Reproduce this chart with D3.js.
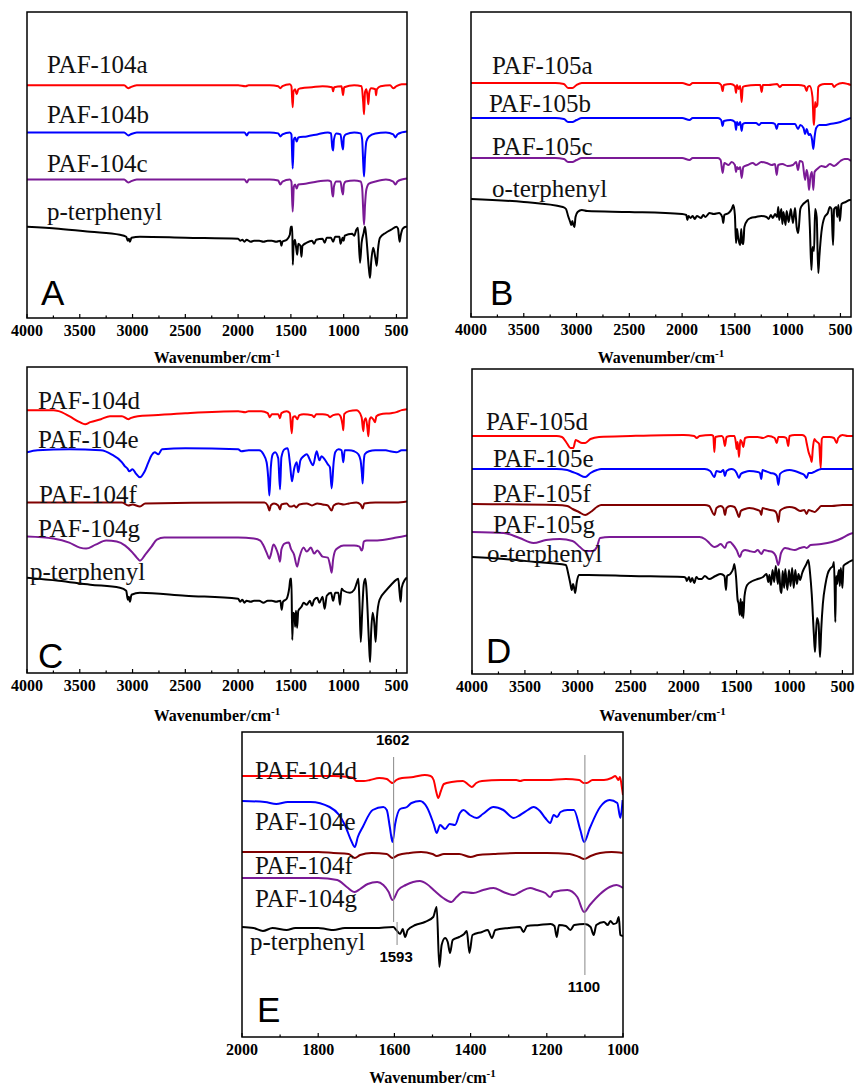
<!DOCTYPE html>
<html>
<head>
<meta charset="utf-8">
<script src="https://cdn.jsdelivr.net/npm/d3@7"></script>
<style>
  body { margin: 0; background: #fff; }
</style>
</head>
<body>
<svg id="fig" width="857" height="1088"></svg>
<script>
// ---- tick values ----
const ticksWide = [4000, 3500, 3000, 2500, 2000, 1500, 1000, 500];
const minorWide = [3750, 3250, 2750, 2250, 1750, 1250, 750];
const ticksE = [2000, 1800, 1600, 1400, 1200, 1000];
const minorE = [1900, 1700, 1500, 1300, 1100];

// ---- series names ----
const namesA = ["PAF-104a", "PAF-104b", "PAF-104c", "p-terphenyl"];
const namesB = ["PAF-105a", "PAF-105b", "PAF-105c", "o-terphenyl"];
const namesC = ["PAF-104d", "PAF-104e", "PAF-104f", "PAF-104g", "p-terphenyl"];
const namesD = ["PAF-105d", "PAF-105e", "PAF-105f", "PAF-105g", "o-terphenyl"];
const namesE = ["PAF-104d", "PAF-104e", "PAF-104f", "PAF-104g", "p-terphenyl"];

// ---- spectra: [wavenumber, offset intensity (a.u.)] ----
// panel A
const a104a = [[4000,232],[3200,232],[3080,232],[3040,229],[3020,230],[2960,232],[2000,232],[1930,231],[1900,232],[1700,232],[1620,231],[1600,229],[1580,231],[1510,233],[1495,231],[1483,210],[1475,226],[1460,228],[1445,223],[1430,228],[1400,229],[1300,230],[1200,231],[1110,230],[1100,226],[1090,230],[1020,231],[1006,222],[995,230],[900,232],[830,231],[815,215],[807,203],[798,225],[785,228],[775,222],[766,213],[757,225],[740,229],[700,228],[693,222],[685,228],[650,231],[560,232],[530,229],[500,231],[450,233],[400,233]];
const a104b = [[4000,185],[3080,185],[3040,182],[3020,183],[2960,185],[1940,185],[1916,182],[1900,185],[1700,185],[1620,184],[1600,181],[1580,183],[1510,185],[1495,183],[1483,149],[1472,178],[1460,180],[1445,176],[1430,180],[1350,181],[1250,183],[1150,185],[1120,184],[1108,170],[1100,167],[1092,178],[1070,184],[1030,183],[1015,172],[1006,168],[998,180],[980,183],[900,185],[840,184],[825,178],[815,155],[807,141],[798,160],[785,176],[760,181],[700,184],[600,185],[530,183],[510,180],[490,183],[450,185],[400,186]];
const a104c = [[4000,138],[3080,138],[3040,135],[3020,136],[2960,138],[1940,138],[1916,135],[1900,138],[1700,138],[1620,137],[1600,133],[1580,136],[1510,138],[1495,136],[1483,106],[1472,131],[1460,133],[1445,129],[1430,133],[1350,134],[1250,136],[1150,137],[1120,136],[1108,124],[1100,121],[1092,131],[1070,136],[1030,136],[1015,126],[1006,123],[998,133],[980,136],[900,137],[840,136],[825,130],[815,108],[807,93],[798,112],[785,128],[760,134],[700,136],[600,138],[530,136],[510,133],[490,136],[450,138],[400,139]];
const aPter = [[4000,91],[3700,89],[3400,86],[3120,83],[3060,81],[3045,77],[3035,79],[3025,76],[3010,80],[2930,81],[2500,80],[2000,79],[1980,77],[1960,78],[1940,76],[1920,78],[1880,76],[1850,77],[1800,77],[1760,76],[1720,77],[1680,77],[1640,76],[1600,77],[1590,72],[1580,76],[1540,78],[1510,83],[1500,91],[1487,91],[1482,53],[1475,72],[1462,78],[1450,70],[1440,63],[1430,74],[1410,72],[1400,61],[1390,72],[1350,75],[1300,77],[1280,74],[1260,78],[1200,79],[1180,75],[1160,80],[1120,80],[1100,76],[1080,81],[1040,81],[1030,74],[1010,80],[1000,77],[990,82],[920,84],[900,82],[880,88],[865,90],[845,55],[830,75],[810,85],[798,91],[785,80],[760,48],[750,40],[740,55],[720,70],[700,60],[687,52],[675,68],[656,80],[600,85],[550,88],[500,91],[485,89],[470,76],[460,82],[440,89],[410,91],[400,91]];

// panel B
const b105a = [[4000,234],[3200,234],[3120,233],[3080,229],[3040,229],[3000,232],[2950,234],[2000,234],[1930,232],[1900,234],[1660,234],[1630,232],[1616,226],[1605,232],[1540,233],[1500,231],[1489,224],[1480,232],[1465,228],[1450,231],[1436,215],[1425,230],[1400,231],[1300,232],[1260,232],[1246,225],[1235,232],[1180,232],[1100,233],[1075,230],[1050,232],[1000,232],[900,232],[840,231],[820,226],[810,230],[790,231],[765,220],[755,196],[750,192],[740,215],[730,210],[719,212],[710,230],[690,232],[650,233],[580,233],[560,230],[540,232],[480,234],[430,233],[400,232]];
const b105b = [[4000,199],[3200,199],[3120,198],[3080,195],[3040,195],[3000,197],[2950,199],[2000,199],[1930,197],[1900,199],[1660,199],[1630,197],[1616,191],[1605,196],[1540,197],[1500,195],[1489,187],[1480,195],[1465,192],[1450,195],[1436,186],[1425,193],[1400,194],[1300,194],[1270,192],[1250,194],[1150,194],[1120,193],[1104,188],[1090,193],[1000,193],[930,193],[902,188],[880,192],[850,189],[835,183],[820,188],[800,182],[788,183],[770,178],[757,168],[745,180],[730,189],[700,192],[650,192],[600,193],[500,195],[450,197],[400,199]];
const b105c = [[4000,159],[3200,159],[3120,158],[3080,155],[3040,155],[3000,157],[2950,159],[2000,159],[1930,157],[1900,159],[1660,159],[1635,157],[1616,144],[1600,154],[1560,152],[1530,155],[1500,152],[1489,145],[1480,150],[1465,148],[1450,150],[1436,139],[1420,150],[1380,152],[1330,154],[1300,152],[1250,155],[1200,154],[1150,152],[1120,153],[1104,142],[1090,152],[1050,153],[1000,151],[950,152],[920,155],[902,147],[885,156],[860,155],[835,137],[820,147],[810,142],[798,127],[785,140],[770,145],[757,127],[745,145],[720,148],[680,151],[640,150],[600,153],[560,151],[500,156],[460,158],[430,158],[400,156]];
const bOter = [[4000,118],[3500,115],[3130,110],[3100,108],[3080,101],[3060,95],[3050,92],[3040,96],[3030,92],[3020,90],[3010,100],[2990,105],[2950,107],[2900,106],[2500,105],[2000,103],[1960,102],[1950,97],[1940,101],[1920,99],[1900,101],[1880,98],[1860,101],[1820,99],[1800,102],[1780,100],[1740,104],[1700,103],[1650,104],[1620,100],[1610,94],[1600,102],[1560,104],[1530,108],[1515,112],[1500,102],[1489,74],[1480,88],[1470,80],[1450,72],[1440,88],[1430,74],[1420,73],[1410,90],[1380,97],[1350,99],[1300,100],[1250,101],[1200,100],[1180,98],[1160,102],[1140,99],[1120,103],[1100,100],[1089,110],[1080,97],[1060,108],[1050,93],[1040,105],[1020,92],[1010,106],[990,95],[970,108],[950,94],[930,109],[915,90],[900,84],[880,108],[860,112],[830,115],[805,117],[790,90],[775,47],[765,70],[750,66],[740,108],[725,100],[710,44],[700,60],[680,85],[650,100],[620,104],[600,110],[585,108],[570,72],[560,108],[540,110],[530,100],[520,112],[505,96],[490,113],[450,115],[410,117],[400,117]];

// panel C
const c104d = [[4000,262],[3750,262],[3700,261],[3600,256],[3500,250],[3450,248],[3400,250],[3300,253],[3214,256],[3100,256],[3040,253],[3020,254],[2950,256],[2800,257],[2500,259],[2000,261],[1930,260],[1900,261],[1780,261],[1720,259],[1700,255],[1680,258],[1620,258],[1603,254],[1590,259],[1540,261],[1510,259],[1492,239],[1480,255],[1460,256],[1440,253],[1420,257],[1380,258],[1300,257],[1280,255],[1260,258],[1200,258],[1150,257],[1130,255],[1100,257],[1050,258],[1030,256],[1010,247],[1003,242],[995,258],[950,261],[880,262],[860,261],[830,255],[814,241],[805,251],[790,254],[775,244],[766,236],[755,252],[740,255],[715,252],[703,250],[690,256],[650,258],[550,259],[500,260],[450,262],[400,263]];
const c104e = [[4000,220],[3900,222],[3600,223],[3300,222],[3200,218],[3100,210],[3072,206],[3050,204],[3030,201],[3000,203],[2970,199],[2930,195],[2890,200],[2850,210],[2820,217],[2790,220],[2756,218],[2720,223],[2500,224],[2000,223],[1970,221],[1900,222],[1800,222],[1760,218],[1730,210],[1715,195],[1704,177],[1690,205],[1672,218],[1650,220],[1620,214],[1603,183],[1590,215],[1560,223],[1530,224],[1508,208],[1490,191],[1470,203],[1445,210],[1430,200],[1410,212],[1380,216],[1350,218],[1310,210],[1290,207],[1256,221],[1230,212],[1210,216],[1180,213],[1150,208],[1130,205],[1114,184],[1095,210],[1080,220],[1050,223],[1020,222],[1003,210],[990,222],[950,222],[900,221],[861,218],[840,212],[828,200],[820,189],[810,210],[800,218],[760,221],[700,222],[600,222],[560,221],[500,220],[450,222],[400,222]];
const c104f = [[4000,170],[3500,170],[3100,170],[3040,167],[3000,168],[2930,166],[2880,169],[2000,170],[1750,170],[1720,167],[1704,162],[1690,167],[1660,169],[1620,167],[1603,163],[1590,168],[1540,169],[1510,166],[1490,166],[1470,167],[1450,165],[1420,168],[1350,169],[1300,167],[1250,169],[1200,168],[1150,167],[1114,162],[1095,167],[1050,169],[1000,168],[950,169],[880,170],[840,168],[820,164],[805,169],[700,170],[600,170],[500,170],[400,171]];
const c104g = [[4000,136],[3750,134],[3600,130],[3500,125],[3440,124],[3350,128],[3250,132],[3150,131],[3070,127],[3000,120],[2960,115],[2930,112],[2880,118],[2820,126],[2770,133],[2700,135],[2000,135],[1850,134],[1790,132],[1760,127],[1730,120],[1704,114],[1690,118],[1665,128],[1640,124],[1620,118],[1603,111],[1590,123],[1560,129],[1520,130],[1500,124],[1470,118],[1441,106],[1420,115],[1380,125],[1350,121],[1310,125],[1280,119],[1250,122],[1200,116],[1150,115],[1130,108],[1114,100],[1100,113],[1080,122],[1050,125],[1000,127],[900,127],[850,126],[830,122],[820,124],[810,131],[780,132],[700,132],[600,133],[500,135],[400,137]];
const cPter = [[4000,95],[3700,92],[3400,88],[3120,85],[3060,82],[3045,73],[3035,76],[3025,71],[3010,78],[2930,80],[2500,77],[2000,74],[1980,71],[1960,73],[1940,70],[1920,72],[1880,71],[1850,72],[1800,72],[1760,70],[1720,72],[1680,72],[1640,71],[1600,72],[1587,63],[1575,71],[1540,74],[1515,85],[1505,94],[1495,94],[1487,33],[1478,60],[1465,58],[1460,46],[1452,62],[1441,45],[1430,62],[1400,66],[1380,70],[1350,68],[1320,72],[1300,67],[1280,73],[1250,75],[1230,70],[1200,76],[1180,64],[1160,77],[1120,80],[1100,72],[1080,80],[1050,80],[1035,68],[1020,84],[1000,82],[940,80],[900,83],[875,90],[861,94],[850,70],[838,31],[825,60],[810,88],[795,94],[785,85],[760,30],[750,11],[740,40],[725,60],[710,50],[697,31],[685,55],[660,73],[600,82],[550,88],[500,93],[483,94],[470,80],[460,71],[450,85],[420,93],[400,95]];

// panel D
const d105d = [[4000,238],[3200,238],[3150,237],[3105,231],[3070,226],[3043,226],[3020,234],[3000,233],[2960,231],[2930,231],[2880,235],[2800,237],[2500,238],[2000,239],[1900,238],[1877,236],[1850,238],[1740,239],[1720,238],[1710,222],[1700,237],[1640,238],[1625,236],[1610,228],[1595,237],[1560,238],[1520,238],[1505,230],[1499,225],[1490,232],[1477,217],[1465,234],[1450,232],[1437,227],[1420,236],[1380,237],[1300,237],[1250,236],[1200,238],[1140,236],[1121,231],[1105,237],[1060,237],[1030,236],[1011,228],[1000,238],[950,239],[880,239],[850,237],[838,231],[820,222],[800,216],[790,212],[780,225],[765,235],[750,233],[720,230],[705,206],[695,235],[680,237],[620,237],[580,236],[554,231],[540,236],[500,239],[450,238],[400,238]];
const d105e = [[4000,205],[3200,205],[3100,204],[3050,202],[3000,200],[2930,197],[2880,201],[2820,204],[2780,205],[2000,205],[1800,205],[1750,203],[1710,197],[1690,203],[1650,202],[1625,204],[1610,198],[1595,203],[1550,205],[1520,204],[1500,201],[1477,196],[1460,200],[1420,202],[1380,203],[1300,202],[1280,201],[1266,195],[1255,204],[1230,203],[1180,201],[1140,200],[1120,198],[1105,189],[1090,200],[1050,203],[1000,204],[950,203],[900,201],[860,199],[838,196],[820,201],[790,201],[770,202],[730,204],[700,205],[600,205],[500,205],[400,205]];
const d105f = [[4000,170],[3200,169],[3100,168],[3050,165],[2990,162],[2930,159],[2880,162],[2820,167],[2780,169],[2000,169],[1800,169],[1760,168],[1710,159],[1690,166],[1650,168],[1625,166],[1610,159],[1595,166],[1560,168],[1520,167],[1500,163],[1477,157],[1460,163],[1420,165],[1380,166],[1300,164],[1280,163],[1266,159],[1255,166],[1220,165],[1180,164],[1140,163],[1120,160],[1105,152],[1090,163],[1050,166],[1000,167],[950,166],[900,163],[860,164],[838,160],[820,164],[790,163],[760,162],[730,165],[700,168],[600,168],[500,169],[400,169]];
const d105g = [[4000,142],[3700,141],[3550,136],[3420,131],[3300,134],[3170,135],[3050,133],[2980,127],[2930,123],[2860,123],[2820,127],[2790,136],[2700,137],[2000,137],[1850,137],[1800,135],[1767,132],[1740,129],[1710,127],[1680,128],[1650,130],[1610,126],[1590,131],[1560,132],[1540,130],[1500,124],[1468,117],[1450,122],[1420,124],[1380,123],[1330,122],[1300,124],[1266,120],[1240,124],[1200,123],[1160,122],[1130,118],[1105,109],[1080,121],[1040,126],[1000,125],[950,124],[900,126],[860,127],[838,126],[800,129],[700,130],[600,132],[500,136],[450,139],[400,141]];
const dOter = [[4000,117],[3700,115],[3400,112],[3113,109],[3090,100],[3070,90],[3058,84],[3045,90],[3035,86],[3025,81],[3010,92],[2990,99],[2900,99],[2500,98],[2000,97],[1980,96],[1970,93],[1950,97],[1935,92],[1920,96],[1900,91],[1880,97],[1860,95],[1830,95],[1800,98],[1760,95],[1700,98],[1650,100],[1615,98],[1600,84],[1590,98],[1560,100],[1530,106],[1521,110],[1505,97],[1490,74],[1480,70],[1470,59],[1462,75],[1452,58],[1445,72],[1437,56],[1425,78],[1400,89],[1350,93],[1300,95],[1250,97],[1217,100],[1200,92],[1190,99],[1175,89],[1160,104],[1145,92],[1130,108],[1110,90],[1100,105],[1085,84],[1075,81],[1065,103],[1050,86],[1040,105],[1020,84],[1005,104],[990,88],[975,106],[960,86],[945,104],[930,90],[915,100],[900,94],[880,101],[869,104],[840,110],[822,114],[805,100],[790,80],[770,40],[759,22],[750,40],[740,56],[725,50],[712,17],[700,45],[685,70],[660,90],[640,100],[610,106],[590,108],[580,112],[572,80],[567,52],[560,98],[550,90],[540,100],[530,104],[525,88],[515,106],[500,86],[490,108],[470,110],[440,112],[400,114]];

// panel E (zoom 2000-1000)
const e104d = [[2000,261],[1760,261],[1720,260],[1708,259],[1700,256],[1680,256],[1664,257],[1640,259],[1620,258],[1610,255],[1605,254],[1595,257],[1580,259],[1550,260],[1520,262],[1505,261],[1497,257],[1490,245],[1485,239],[1478,246],[1470,253],[1450,255],[1420,256],[1405,252],[1397,250],[1385,254],[1370,256],[1320,257],[1280,257],[1270,256],[1260,257],[1200,257],[1150,258],[1115,257],[1103,254],[1095,254],[1080,257],[1050,257],[1030,259],[1020,261],[1012,257],[1008,260],[1003,250],[1000,242]];
const e104e = [[2000,236],[1940,235],[1910,233],[1880,235],[1820,235],[1770,230],[1745,222],[1730,212],[1713,196],[1704,190],[1696,200],[1683,210],[1657,227],[1629,230],[1620,227],[1612,210],[1605,195],[1598,213],[1585,228],[1567,230],[1555,234],[1533,236],[1515,230],[1497,213],[1489,204],[1480,212],[1467,208],[1455,213],[1441,212],[1428,224],[1419,227],[1402,222],[1384,219],[1368,223],[1340,230],[1314,227],[1287,219],[1270,222],[1250,227],[1235,230],[1218,226],[1204,219],[1191,214],[1182,222],[1173,220],[1164,225],[1146,227],[1129,227],[1112,207],[1102,195],[1087,209],[1060,230],[1035,237],[1015,234],[1007,219],[1001,237]];
const e104f = [[2000,185],[1800,185],[1760,184],[1720,183],[1704,179],[1690,182],[1660,184],[1620,183],[1605,179],[1590,182],[1560,184],[1530,185],[1500,183],[1489,181],[1470,183],[1430,183],[1400,180],[1380,182],[1340,183],[1280,184],[1200,184],[1140,183],[1115,180],[1102,178],[1085,181],[1060,184],[1030,185],[1000,184]];
const e104g = [[2000,159],[1800,159],[1750,157],[1725,150],[1704,145],[1690,148],[1670,153],[1645,155],[1629,152],[1615,145],[1605,137],[1590,147],[1570,152],[1533,156],[1515,153],[1497,147],[1472,139],[1450,135],[1437,140],[1419,145],[1393,144],[1367,147],[1340,149],[1314,145],[1287,142],[1270,145],[1244,149],[1226,147],[1204,144],[1191,140],[1182,145],[1146,147],[1120,140],[1102,125],[1087,132],[1060,143],[1035,150],[1017,152],[1000,149]];
const ePter = [[2000,110],[1970,109],[1945,106],[1920,109],[1883,107],[1860,109],[1800,109],[1780,108],[1760,107],[1730,109],[1700,109],[1650,109],[1603,110],[1595,107],[1585,103],[1578,108],[1572,100],[1565,107],[1545,112],[1520,115],[1498,120],[1489,130],[1482,70],[1476,92],[1467,99],[1460,95],[1454,84],[1447,97],[1430,100],[1417,103],[1410,106],[1403,84],[1395,102],[1370,105],[1355,107],[1344,99],[1335,107],[1300,109],[1270,110],[1261,105],[1252,111],[1220,112],[1190,113],[1180,111],[1174,100],[1168,112],[1150,111],[1138,107],[1128,112],[1100,113],[1085,110],[1077,102],[1070,112],[1050,115],[1040,112],[1033,116],[1025,113],[1017,114],[1011,120],[1007,102],[1000,101]];

// marker lines in E: [wavenumber, top level, bottom level]
const markE = [[1602, 280, 115], [1593, 115, 92], [1100, 282, 62]];
const markLabelsE = ["1602", "1593", "1100"];

// ---- layout / styling ----
const RED = "#ff0000", BLUE = "#0000ff", PURPLE = "#7b1a96", WINE = "#800000", BLACK = "#000000";
const serif = "'Liberation Serif', 'Times New Roman', serif";
const sans = "'Liberation Sans', Arial, sans-serif";
const yMax = 305;

const panels = [
  { letter: "A", box: [27, 12, 407, 318], xDom: [4000, 400], ticks: ticksWide, minor: minorWide, titleY: 363,
    series: [a104a, a104b, a104c, aPter], names: namesA, colors: [RED, BLUE, PURPLE, BLACK],
    labelPos: [[47, 73], [47, 123], [47, 172], [47, 220]], letterPos: [41, 305] },
  { letter: "B", box: [471, 12, 851, 317], xDom: [4000, 400], ticks: ticksWide, minor: minorWide, titleY: 363,
    series: [b105a, b105b, b105c, bOter], names: namesB, colors: [RED, BLUE, PURPLE, BLACK],
    labelPos: [[492, 74], [489, 112], [492, 155], [492, 197]], letterPos: [490, 305] },
  { letter: "C", box: [27, 367, 407, 673], xDom: [4000, 400], ticks: ticksWide, minor: minorWide, titleY: 721,
    series: [c104d, c104e, c104f, c104g, cPter], names: namesC, colors: [RED, BLUE, WINE, PURPLE, BLACK],
    labelPos: [[38, 409], [38, 448], [39, 503], [38, 537], [30, 580]], letterPos: [38, 668] },
  { letter: "D", box: [472, 369, 853, 674], xDom: [4000, 400], ticks: ticksWide, minor: minorWide, titleY: 721,
    series: [d105d, d105e, d105f, d105g, dOter], names: namesD, colors: [RED, BLUE, WINE, PURPLE, BLACK],
    labelPos: [[486, 430], [493, 467], [493, 502], [493, 533], [487, 562]], letterPos: [486, 663] },
  { letter: "E", box: [242, 732, 623, 1037], xDom: [2000, 1000], ticks: ticksE, minor: minorE, titleY: 1083,
    series: [e104d, e104e, e104f, e104g, ePter], names: namesE, colors: [RED, BLUE, WINE, PURPLE, BLACK],
    labelPos: [[255, 779], [255, 830], [255, 874], [255, 907], [250, 950]], letterPos: [257, 1022] }
];

const svg = d3.select("#fig");
svg.append("rect").attr("width", 857).attr("height", 1088).attr("fill", "#fff");

panels.forEach((p, pi) => {
  const [x0, y0, x1, y1] = p.box;
  const x = d3.scaleLinear().domain(p.xDom).range([x0, x1]);
  const y = d3.scaleLinear().domain([0, yMax]).range([y1, y0]);
  const g = svg.append("g");

  const clipId = "clip" + pi;
  svg.append("clipPath").attr("id", clipId)
    .append("rect").attr("x", x0).attr("y", y0).attr("width", x1 - x0).attr("height", y1 - y0);

  // spectra
  const line = d3.line().x(d => x(d[0])).y(d => y(d[1])).curve(d3.curveMonotoneX);
  g.append("g").attr("clip-path", `url(#${clipId})`)
    .selectAll("path").data(p.series).join("path")
    .attr("d", line)
    .attr("fill", "none")
    .attr("stroke", (d, i) => p.colors[i])
    .attr("stroke-width", 2)
    .attr("stroke-linejoin", "round");

  // marker lines (panel E only)
  if (p.letter === "E") {
    g.selectAll(".mark").data(markE).join("line")
      .attr("x1", d => x(d[0])).attr("x2", d => x(d[0]))
      .attr("y1", d => y(d[1])).attr("y2", d => y(d[2]))
      .attr("stroke", "#888").attr("stroke-width", 1);
    const labY = [y(292), y(75), y(45)];
    g.selectAll(".marklab").data(markE).join("text")
      .attr("x", d => x(d[0]) - 1)
      .attr("y", (d, i) => labY[i])
      .attr("text-anchor", "middle")
      .attr("font-family", sans).attr("font-weight", "bold").attr("font-size", 15)
      .text((d, i) => markLabelsE[i]);
  }

  // frame
  g.append("rect").attr("x", x0).attr("y", y0).attr("width", x1 - x0).attr("height", y1 - y0)
    .attr("fill", "none").attr("stroke", "#000").attr("stroke-width", 1.5);

  // ticks (inward)
  g.selectAll(".maj").data(p.ticks).join("line")
    .attr("x1", d => x(d)).attr("x2", d => x(d)).attr("y1", y1).attr("y2", y1 - 4)
    .attr("stroke", "#000").attr("stroke-width", 1.2);
  g.selectAll(".min").data(p.minor).join("line")
    .attr("x1", d => x(d)).attr("x2", d => x(d)).attr("y1", y1).attr("y2", y1 - 2.5)
    .attr("stroke", "#000").attr("stroke-width", 1.2);
  g.selectAll(".tl").data(p.ticks).join("text")
    .attr("x", d => x(d)).attr("y", y1 + 18)
    .attr("text-anchor", "middle")
    .attr("font-family", serif).attr("font-weight", "bold").attr("font-size", 16)
    .text(d => d);

  // axis title
  const t = g.append("text").attr("x", (x0 + x1) / 2).attr("y", p.titleY)
    .attr("text-anchor", "middle")
    .attr("font-family", serif).attr("font-weight", "bold").attr("font-size", 16);
  t.append("tspan").text("Wavenumber/cm");
  t.append("tspan").attr("dy", -6).attr("font-size", 11).text("-1");

  // series labels
  g.selectAll(".lab").data(p.names).join("text")
    .attr("x", (d, i) => p.labelPos[i][0]).attr("y", (d, i) => p.labelPos[i][1])
    .attr("font-family", serif).attr("font-size", 25)
    .attr("fill", "#111")
    .text(d => d);

  // panel letter
  g.append("text").attr("x", p.letterPos[0]).attr("y", p.letterPos[1])
    .attr("font-family", sans).attr("font-size", 35)
    .text(p.letter);
});
</script>
</body>
</html>
